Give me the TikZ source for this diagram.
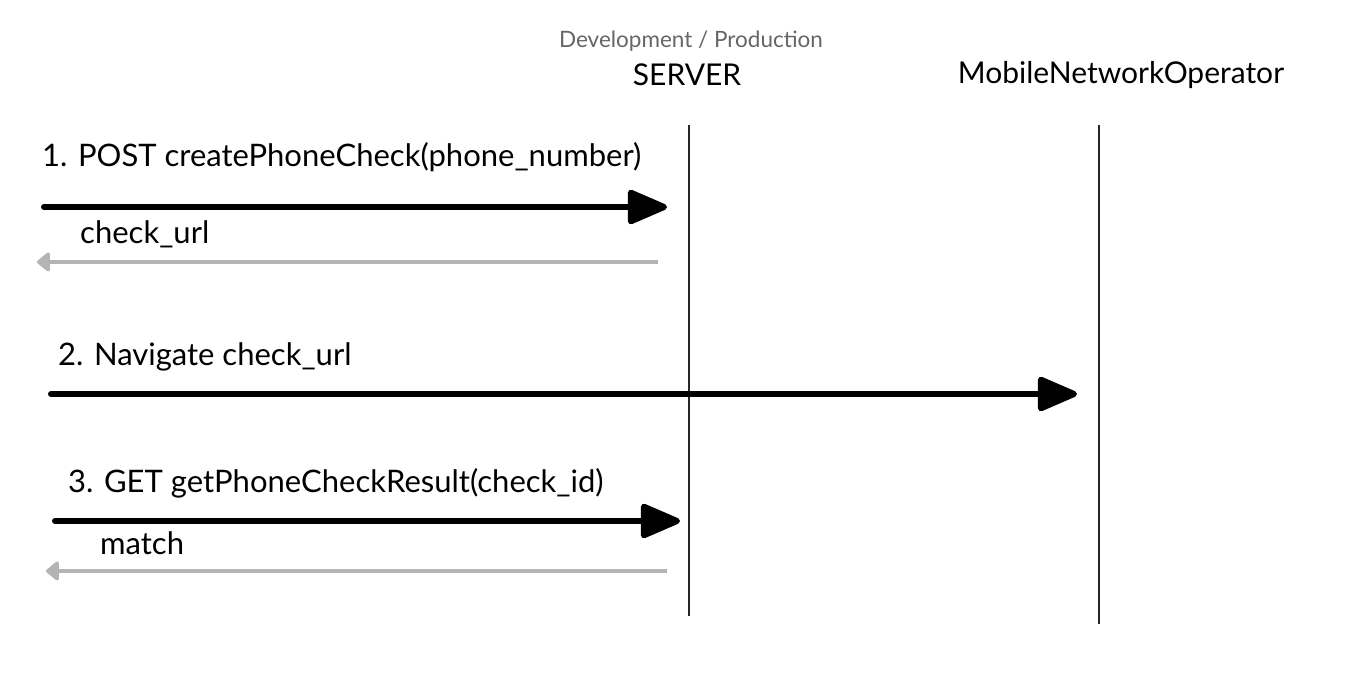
\documentclass[tikz,border=0pt]{standalone}
\usepackage{fontspec}
\setmainfont{Lato}
\usetikzlibrary{arrows.meta}
\definecolor{retgray}{HTML}{B4B4B4}
\definecolor{envgray}{HTML}{666666}
\tikzset{
  lbl/.style={anchor=base west, inner sep=0pt, font=\fontsize{31}{36}\selectfont},
  actor/.style={anchor=base, inner sep=0pt, font=\fontsize{30}{34}\selectfont},
  envlbl/.style={anchor=base, inner sep=0pt, text=envgray, font=\fontsize{22.5}{26}\selectfont},
  lifeline/.style={line width=1.3pt, black!85},
  callarrow/.style={line width=6pt, line cap=round, -{Triangle[length=44pt,width=36pt,round]}},
  retarrow/.style={line width=4.5pt, retgray, -{Triangle[length=14pt,width=22pt,round]}},
}
\begin{document}
\begin{tikzpicture}[x=1pt,y=-1pt]
\useasboundingbox[fill=white] (0,0) rectangle (1345,697);
% headers
\node[envlbl] (env) at (691,47) {Development / Production};
\node[actor] (server) at (687,85) {SERVER};
\node[actor] (mno) at (1121,83) {MobileNetworkOperator};
% lifelines
\coordinate (sTop) at (689,125);
\coordinate (sBot) at (689,616);
\coordinate (mTop) at (1099,125);
\coordinate (mBot) at (1099,624);
\draw[lifeline] (sTop) -- (sBot);
\draw[lifeline] (mTop) -- (mBot);
% step 1
\node[lbl] (l1) at (42,166) {1. POST createPhoneCheck(phone\_number)};
\coordinate (a1s) at (44,207);
\coordinate (a1e) at (667,207);
\draw[callarrow] (a1s) -- (a1e);
\node[lbl] (r1) at (80,243) {check\_url};
\coordinate (r1s) at (658,262);
\coordinate (r1e) at (37,262);
\draw[retarrow] (r1s) -- (r1e);
% step 2
\node[lbl] (l2) at (58,365) {2. Navigate check\_url};
\coordinate (a2s) at (51,394);
\coordinate (a2e) at (1077,394);
\draw[callarrow] (a2s) -- (a2e);
% step 3
\node[lbl] (l3) at (68,492) {3. GET getPhoneCheckResult(check\_id)};
\coordinate (a3s) at (55,521);
\coordinate (a3e) at (680,521);
\draw[callarrow] (a3s) -- (a3e);
\node[lbl] (r3) at (100,554) {match};
\coordinate (r3s) at (667,571);
\coordinate (r3e) at (46,571);
\draw[retarrow] (r3s) -- (r3e);
\end{tikzpicture}
\end{document}
